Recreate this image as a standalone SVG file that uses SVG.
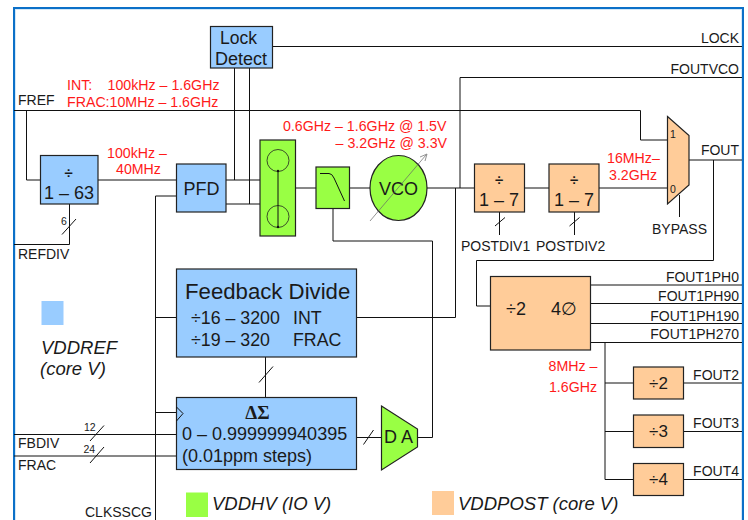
<svg xmlns="http://www.w3.org/2000/svg" width="748" height="520" viewBox="0 0 748 520">
<style>
text{font-family:"Liberation Sans",Arial,sans-serif;fill:#1a1a1a}
.b{fill:#99ccff}.g{fill:#99ff44}.o{fill:#ffcc99}
.n{stroke:#222;stroke-width:1.2}
#connectors path,.w{fill:none;stroke:#111;stroke-width:1}
.t{fill:none;stroke:#222;stroke-width:.8}
.s{font-size:14px}
.r{font-size:14.2px;fill:#ff1a1a}
.e{text-anchor:end}.m{text-anchor:middle}
.l{font-size:18.5px;font-style:italic}
</style>
<rect x="15.5" y="9.5" width="726" height="520" fill="none" stroke="#d3e8f8" stroke-width="1"/>
<rect x="14" y="8" width="729" height="530" fill="none" stroke="#0b70c8" stroke-width="2"/>
<g id="connectors">
<path d="M272 46.5H742M460 188V77.5H742M14 110.5H640.5V140H667M26.5 110.5V180H41M98 180H176M69.5 204V244.5H14M234.5 68V180M249.5 68V204M226 180H260M226 204H260M295 188H316M349 188H370M427 188H474M524 188H549M599 188H667"/>
<path d="M455.5 188V317.5H357M333 208V241H432.5V437.5H417M499.5 212V235M574.5 212V235M679.5 195V217M689 160H742M713.5 160V260.500H476.500V306H490M591 285H742M591 303.500H742M591 323.500H742M591 342.500H742M605 342.500V479.500H633M605 383H633M605 431.500H633M605 479.500H633M683 383H742M683 431.500H742M683 479.500H742"/>
<path d="M155 317.500H176M155.500 520V196H176M155 412.500H176M265.500 357V397M14 434.500H176M14 456H176M357 437.500H381"/>
<path d="M62 234.500L76 219M495 226L505 217.500M569.500 226L579.500 217.500M259 382.500L273 366.500M90 441L104 425.500M90 463L104 447M363.500 444.500L373.500 430"/>
</g>
<g id="lock-detect"><rect class="b n" x="210.500" y="26.500" width="62" height="41.500"/><text x="238.500" y="44" class="m" font-size="17.500">Lock</text><text x="241" y="65" class="m" font-size="18">Detect</text></g>
<g id="refdiv"><rect class="b n" x="40.500" y="155.500" width="57.500" height="48.500"/><text x="68.500" y="178" class="m" font-size="15" font-weight="bold">÷</text><text x="69" y="199" class="m" font-size="18">1 – 63</text></g>
<g id="pfd"><rect class="b n" x="176.500" y="164" width="49.500" height="48"/><text x="201.500" y="195" class="m" font-size="18">PFD</text></g>
<g id="charge-pump"><rect class="g n" x="260" y="140" width="35.500" height="96"/><circle class="t" cx="278" cy="160.500" r="11"/><circle class="t" cx="278" cy="216.500" r="11"/><path class="w" d="M278 171V228"/><circle cx="278" cy="171" r="1.200" fill="#111"/><circle cx="278" cy="227" r="1.200" fill="#111"/></g>
<g id="filter"><rect class="g n" x="316" y="167" width="33.500" height="41.500"/><path class="w" d="M320 173.500H329Q332 173.500 334 178L344.500 201"/></g>
<g id="vco"><ellipse class="g n" cx="398.500" cy="188" rx="28.500" ry="32.500"/><text x="398.500" y="195" class="m" font-size="18">VCO</text><path d="M370 221L426 155" fill="none" stroke="#666" stroke-width=".7"/><path d="M420 157L427 154L425 161" fill="none" stroke="#666" stroke-width=".7"/></g>
<g id="postdiv1"><rect class="o n" x="474.500" y="164" width="50" height="48"/><text x="499" y="185" class="m" font-size="15" font-weight="bold">÷</text><text x="499" y="206" class="m" font-size="18">1 – 7</text></g>
<g id="postdiv2"><rect class="o n" x="549" y="164" width="50" height="48"/><text x="574" y="185" class="m" font-size="15" font-weight="bold">÷</text><text x="574" y="206" class="m" font-size="18">1 – 7</text></g>
<g id="mux"><path class="o n" d="M667.500 116.500L689 135.500V185L667.500 204Z"/><text x="670" y="138" font-size="10.500">1</text><text x="670" y="193" font-size="10.500">0</text></g>
<g id="feedback"><rect class="b n" x="176.500" y="269" width="180" height="88"/><text x="185" y="299" font-size="22.200">Feedback Divide</text><text x="191" y="324" font-size="17.800">÷16 – 3200</text><text x="293" y="324" font-size="17.800">INT</text><text x="191" y="346" font-size="17.800">÷19 – 320</text><text x="293" y="346" font-size="17.800">FRAC</text></g>
<g id="delta-sigma"><rect class="b n" x="176.500" y="397.500" width="180" height="72"/><path class="w" d="M176.500 407L183 413.500L176.500 421"/><text x="257.500" y="419" class="m" font-size="19" font-weight="bold" style="font-family:'Liberation Serif',serif">ΔΣ</text><text x="182" y="440" font-size="18">0 – 0.999999940395</text><text x="182" y="462" font-size="18">(0.01ppm steps)</text></g>
<g id="da"><path class="g n" d="M381.500 406L417.500 429V447L381.500 470Z"/><text x="384" y="443" font-size="18">D A</text></g>
<g id="phase"><rect class="o n" x="490.500" y="276.500" width="100" height="73.500"/><text x="506" y="315" font-size="18">÷2</text><text x="551" y="315" font-size="18">4∅</text></g>
<g id="div2"><rect class="o n" x="633.500" y="367" width="50" height="32"/><text x="658.500" y="389" class="m" font-size="17">÷2</text></g>
<g id="div3"><rect class="o n" x="633.500" y="415" width="50" height="32.500"/><text x="658.500" y="437" class="m" font-size="17">÷3</text></g>
<g id="div4"><rect class="o n" x="633.500" y="463.500" width="50" height="32"/><text x="658.500" y="485" class="m" font-size="17">÷4</text></g>
<g id="labels">
<text class="s" x="18" y="105">FREF</text><text class="s" x="18" y="259">REFDIV</text><text x="61" y="225" font-size="10.500">6</text>
<text class="s e" x="739" y="43">LOCK</text><text class="s e" x="739" y="74">FOUTVCO</text><text class="s e" x="739" y="155">FOUT</text>
<text class="s" x="652" y="234">BYPASS</text><text class="s" x="461" y="251">POSTDIV1</text><text class="s" x="536" y="251">POSTDIV2</text>
<text class="s e" x="739" y="282">FOUT1PH0</text><text class="s e" x="739" y="301">FOUT1PH90</text><text class="s e" x="739" y="320.500">FOUT1PH190</text><text class="s e" x="739" y="339">FOUT1PH270</text>
<text class="s e" x="739" y="380">FOUT2</text><text class="s e" x="739" y="428">FOUT3</text><text class="s e" x="739" y="476">FOUT4</text>
<text x="84" y="431" font-size="10.500">12</text><text x="83.500" y="453" font-size="10.500">24</text>
<text class="s" x="18" y="448">FBDIV</text><text class="s" x="18" y="470">FRAC</text><text class="s" x="85" y="517">CLKSSCG</text>
<text class="r" x="67" y="90">INT:</text><text class="r" x="107.500" y="90">100kHz – 1.6GHz</text><text class="r" x="67" y="107">FRAC:10MHz – 1.6GHz</text>
<text class="r" x="107" y="158">100kHz –</text><text class="r m" x="138.500" y="174">40MHz</text>
<text class="r" x="283" y="131">0.6GHz – 1.6GHz @ 1.5V</text><text class="r e" x="447" y="148">– 3.2GHz @ 3.3V</text>
<text class="r" x="607" y="163">16MHz–</text><text class="r" x="609" y="180">3.2GHz</text>
<text class="r m" x="573" y="371">8MHz –</text><text class="r m" x="573" y="392">1.6GHz</text>
</g>
<g id="legend">
<rect class="b" x="41.500" y="301" width="22" height="24"/><text class="l" x="41" y="354">VDDREF</text><text class="l" x="40" y="375">(core V)</text>
<rect class="g" x="186" y="492.500" width="22" height="24.500"/><text class="l" x="212" y="510">VDDHV (IO V)</text>
<rect class="o" x="432" y="491" width="22" height="24"/><text class="l" x="458" y="510">VDDPOST (core V)</text>
</g>
</svg>
